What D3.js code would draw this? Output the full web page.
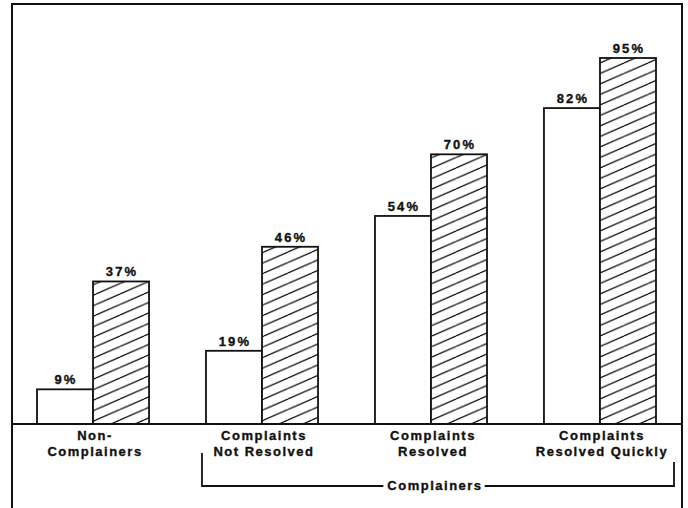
<!DOCTYPE html>
<html>
<head>
<meta charset="utf-8">
<script src="https://cdn.jsdelivr.net/npm/d3@7"></script>
<style>
body { margin: 0; background: #fff; }
text { font-family: "Liberation Sans", Arial, sans-serif; font-weight: bold; fill: #111; stroke: #111; stroke-width: 0.35px; }
</style>
</head>
<body>
<div id="container"></div>
<script>
const width = 688;
const height = 508;

// data
const categories = ["Non-Complainers", "Complaints Not Resolved", "Complaints Resolved", "Complaints Resolved Quickly"];
const categoryLines = [
    ["Non-", "Complainers"],
    ["Complaints", "Not Resolved"],
    ["Complaints", "Resolved"],
    ["Complaints", "Resolved Quickly"],
];
const series = ["plain", "hatched"];
const plainValues = [9, 19, 54, 82];
const hatchedValues = [37, 46, 70, 95];
const bracketLabel = "Complainers";

const rows = [];
categories.forEach((c, i) => {
    rows.push({ cat: c, s: "plain", v: plainValues[i] });
    rows.push({ cat: c, s: "hatched", v: hatchedValues[i] });
});

const svg = d3.select("#container")
    .append("svg")
    .attr("width", width)
    .attr("height", height);

const defs = svg.append("defs");
const hw = 24, hh = 10.5;
const pat = defs.append("pattern")
    .attr("id", "hatch")
    .attr("patternUnits", "userSpaceOnUse")
    .attr("width", hw)
    .attr("height", hh);
pat.append("rect").attr("width", hw).attr("height", hh).attr("fill", "#fff");
[-hh, 0, hh].forEach((dy) => {
    pat.append("line")
        .attr("x1", 0).attr("y1", hh + dy)
        .attr("x2", hw).attr("y2", dy)
        .attr("stroke", "#111")
        .attr("stroke-width", 1.3);
});

const x = d3.scaleBand()
    .domain(categories)
    .range([37, 656])
    .paddingInner(0.337)
    .paddingOuter(0);
const xs = d3.scaleBand()
    .domain(series)
    .range([0, x.bandwidth()]);
const y = d3.scaleLinear()
    .domain([0, 95])
    .range([424, 58]);

// frame
svg.append("path")
    .attr("d", "M12,512V4H682V512")
    .attr("fill", "none")
    .attr("stroke", "#111")
    .attr("stroke-width", 2);

// bars
svg.append("g")
    .selectAll("rect")
    .data(rows)
    .enter()
    .append("rect")
    .attr("x", (d) => x(d.cat) + xs(d.s))
    .attr("y", (d) => y(d.v))
    .attr("width", xs.bandwidth())
    .attr("height", (d) => y(0) - y(d.v))
    .attr("fill", (d) => (d.s === "hatched" ? "url(#hatch)" : "#fff"))
    .attr("stroke", "#111")
    .attr("stroke-width", 1.8);

// value labels
svg.append("g")
    .selectAll("text")
    .data(rows)
    .enter()
    .append("text")
    .attr("x", (d) => x(d.cat) + xs(d.s) + xs.bandwidth() / 2 + 1)
    .attr("y", (d) => y(d.v) - 5)
    .attr("text-anchor", "middle")
    .style("font-size", "13px")
    .style("letter-spacing", "2.2px")
    .text((d) => d.v + "%");

// baseline
svg.append("line")
    .attr("x1", 12).attr("x2", 682)
    .attr("y1", y(0)).attr("y2", y(0))
    .attr("stroke", "#111")
    .attr("stroke-width", 2);

// category labels
const cl = svg.append("g")
    .selectAll("text")
    .data(categories)
    .enter()
    .append("text")
    .attr("text-anchor", "middle")
    .style("font-size", "13px")
    .style("letter-spacing", "1.5px");
cl.each(function (c, i) {
    const cx = x(c) + x.bandwidth() / 2 + 2;
    categoryLines[i].forEach((ln, j) => {
        d3.select(this).append("tspan")
            .attr("x", cx)
            .attr("y", 440 + j * 15.5)
            .text(ln);
    });
});

// bracket under the complainer groups
const bx1 = x(categories[1]) - 4;
const bx2 = x(categories[3]) + x.bandwidth() + 18;
const by = 486;
const bg = svg.append("g");
bg.append("path")
    .attr("d", `M${bx1},453V${by}H${bx2}V462`)
    .attr("fill", "none")
    .attr("stroke", "#111")
    .attr("stroke-width", 1.8);
const gap = bg.append("rect").attr("fill", "#fff");
const bt = bg.append("text")
    .attr("x", (bx1 + bx2) / 2 - 3)
    .attr("y", 490)
    .attr("text-anchor", "middle")
    .style("font-size", "13px")
    .style("letter-spacing", "1.5px")
    .text(bracketLabel);
const bb = bt.node().getBBox();
gap.attr("x", bb.x - 4)
    .attr("y", by - 3)
    .attr("width", bb.width + 6)
    .attr("height", 6);
</script>
</body>
</html>
